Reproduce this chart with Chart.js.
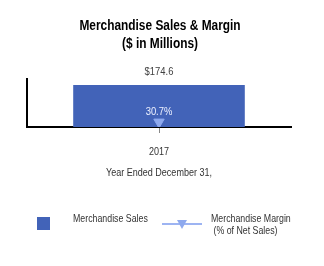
<!DOCTYPE html>
<html>
<head>
<meta charset="utf-8">
<script src="https://cdn.jsdelivr.net/npm/chart.js@4.4.1/dist/chart.umd.min.js"></script>
<style>
  html, body { margin: 0; padding: 0; background: #fff; }
  #wrap { position: relative; width: 324px; height: 266px; font-family: "Liberation Sans", Arial, sans-serif; }
  #wrap canvas { position: absolute; left: 0; top: 0; }
  .lg { position: absolute; font-size: 11px; color: #333; line-height: 12px; white-space: nowrap;
    transform: scaleX(0.8); transform-origin: left top; }
  #swatch { position: absolute; left: 37px; top: 217px; width: 13px; height: 13px; background: #4263B8; }
  #lgline { position: absolute; left: 162px; top: 223px; width: 40px; height: 2px; background: #9DB4F2; }
  #lgtri { position: absolute; left: 177px; top: 220px; width: 0; height: 0;
    border-left: 5px solid transparent; border-right: 5px solid transparent; border-top: 9px solid #8EA9EE; }
</style>
</head>
<body>
<div id="wrap">
  <canvas id="myChart" width="324" height="266"></canvas>
  <div id="swatch"></div>
  <div class="lg" style="left:73px; top:212px;">Merchandise Sales</div>
  <div id="lgline"></div>
  <div id="lgtri"></div>
  <div class="lg" style="left:211px; top:212px;">Merchandise Margin<br>&nbsp;(% of Net Sales)</div>
</div>
<script>
const categories = ["2017"];
const salesValues = [174.6];
const marginValues = [30.7];
const titleLines = ["Merchandise Sales & Margin", "($ in Millions)"];
const xAxisTitle = "Year Ended December 31,";

const barColor = "#4263B8";
const markerColor = "#8EA9EE";
const fontFamily = "'Liberation Sans', Arial, sans-serif";

// the original uses a narrow face; squeeze regular text horizontally
function narrowText(ctx, text, x, y, size, weight, color) {
  ctx.save();
  ctx.translate(x, y);
  ctx.scale(0.82, 1);
  ctx.font = weight + " " + size + "px " + fontFamily;
  ctx.fillStyle = color;
  ctx.textAlign = "center";
  ctx.textBaseline = "middle";
  ctx.fillText(text, 0, 0);
  ctx.restore();
}

const textLayer = {
  id: "textLayer",
  afterDraw(chart) {
    const ctx = chart.ctx;
    const area = chart.chartArea;
    const mid = (area.left + area.right) / 2;
    const xs = chart.scales.x;

    narrowText(ctx, titleLines[0], mid + 1, 26, 14.5, "bold", "#000");
    narrowText(ctx, titleLines[1], mid + 1, 44, 14.5, "bold", "#000");

    categories.forEach((c, i) => {
      narrowText(ctx, c, xs.getPixelForValue(i), 152, 11, "normal", "#333");
    });
    narrowText(ctx, xAxisTitle, mid, 173, 11, "normal", "#333");

    chart.getDatasetMeta(1).data.forEach((bar, i) => {
      narrowText(ctx, "$" + salesValues[i].toFixed(1), bar.x, bar.y - 13, 11.5, "normal", "#404040");
    });
    chart.getDatasetMeta(0).data.forEach((pt, i) => {
      narrowText(ctx, marginValues[i].toFixed(1) + "%", pt.x, pt.y - 10, 11.5, "normal", "#EEF2FF");
    });
  }
};

const ctx = document.getElementById("myChart").getContext("2d");
new Chart(ctx, {
  data: {
    labels: categories,
    datasets: [
      {
        type: "line",
        label: "Merchandise Margin (% of Net Sales)",
        data: marginValues,
        yAxisID: "y1",
        borderColor: markerColor,
        backgroundColor: markerColor,
        pointStyle: "triangle",
        rotation: 180,
        pointRadius: 6,
        order: 0
      },
      {
        type: "bar",
        label: "Merchandise Sales",
        data: salesValues,
        backgroundColor: barColor,
        categoryPercentage: 1,
        barPercentage: 0.65,
        order: 1
      }
    ]
  },
  options: {
    responsive: false,
    animation: false,
    layout: {
      padding: { left: 27, right: 33, top: 79, bottom: 0 }
    },
    scales: {
      x: {
        grid: { display: true, drawOnChartArea: false, offset: false, tickLength: 6, color: "#888" },
        border: { display: true, color: "#000", width: 2 },
        ticks: { display: false },
        afterFit(scale) { scale.height = 139; }
      },
      y: {
        min: 0,
        max: 200,
        grid: { display: false },
        border: { display: true, color: "#000", width: 2 },
        ticks: { display: false },
        afterFit(scale) { scale.width = 0; }
      },
      y1: {
        display: false,
        min: 0,
        max: 300
      }
    },
    plugins: {
      legend: { display: false },
      tooltip: { enabled: false },
      title: { display: false }
    }
  },
  plugins: [textLayer]
});
</script>
</body>
</html>
